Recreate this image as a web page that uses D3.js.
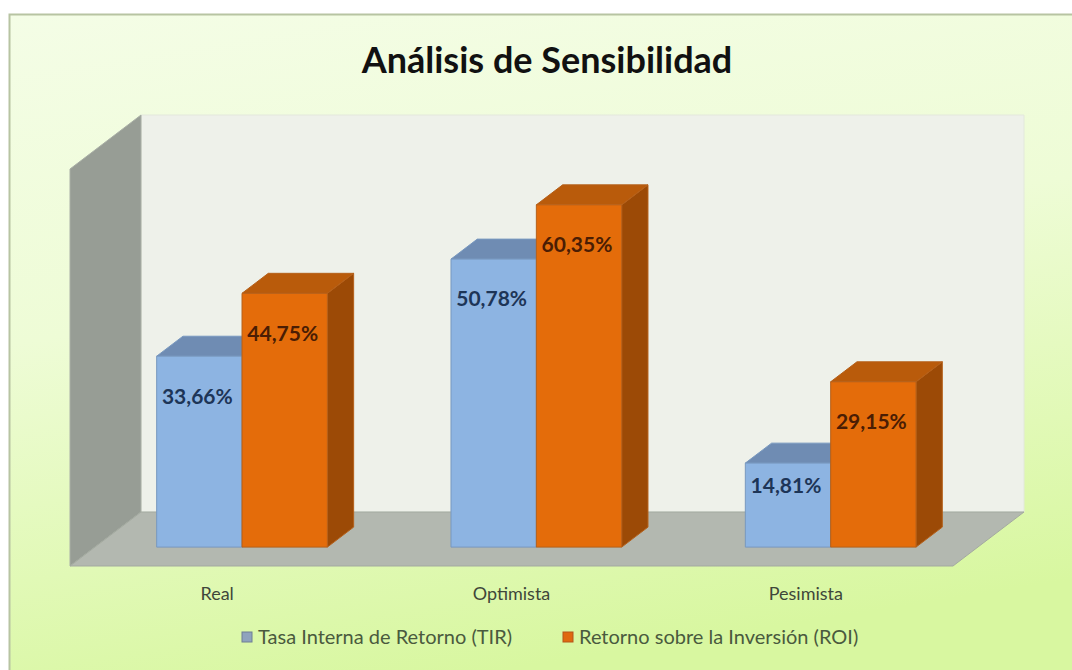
<!DOCTYPE html>
<html>
<head>
<meta charset="utf-8">
<script src="https://cdn.jsdelivr.net/npm/d3@7"></script>
<style>
  html, body { margin: 0; padding: 0; background: #ffffff; overflow: hidden; }
</style>
</head>
<body>
<div id="chart"></div>
<script>
// data
const categories = ["Real", "Optimista", "Pesimista"];
const seriesNames = ["Tasa Interna de Retorno (TIR)", "Retorno sobre la Inversión (ROI)"];
const tirValues = [33.66, 50.78, 14.81];
const roiValues = [44.75, 60.35, 29.15];
const yMax = 70;

const W = 1072, H = 670;

// 3d box geometry (oblique projection)
const frontLeft = 70, frontRight = 953, floorY = 566;
const depth = {dx: 71, dy: -54};
const barF0 = 0.35, barF1 = 0.72;

const palette = [
  {front: "#8db4e2", top: "#6f8cb3", side: "#5b79a0", stroke: "#7898bf", label: "#1d3557"},
  {front: "#e46c0a", top: "#b95b0b", side: "#9c4a06", stroke: "#b5601a", label: "#4a1d04"}
];

const svg = d3.select("#chart")
  .append("svg")
  .attr("width", W)
  .attr("height", H);

const defs = svg.append("defs");
const bg = defs.append("linearGradient")
  .attr("id", "bg")
  .attr("x1", 0).attr("y1", 0).attr("x2", 0.25).attr("y2", 1);
bg.append("stop").attr("offset", "0%").attr("stop-color", "#f4fde6");
bg.append("stop").attr("offset", "45%").attr("stop-color", "#eefcd6");
bg.append("stop").attr("offset", "100%").attr("stop-color", "#d8f7a0");

// chart area (runs past the right and bottom edge like the picture)
svg.append("rect")
  .attr("x", 9.5).attr("y", 14.5)
  .attr("width", W + 20).attr("height", H + 20)
  .attr("fill", "url(#bg)")
  .attr("stroke", "#b7c4a2")
  .attr("stroke-width", 2);

svg.append("text")
  .attr("x", 547).attr("y", 73)
  .attr("text-anchor", "middle")
  .style("font-family", "Lato, 'Open Sans', sans-serif")
  .style("font-weight", "bold")
  .style("font-size", "36px")
  .attr("fill", "#111111")
  .text("Análisis de Sensibilidad");

const x = d3.scaleBand()
  .domain(categories)
  .range([frontLeft, frontRight])
  .paddingInner(0.42)
  .paddingOuter(0.21);

const xs = d3.scaleBand()
  .domain(d3.range(seriesNames.length))
  .range([0, x.bandwidth()]);

const y = d3.scaleLinear()
  .domain([0, yMax])
  .range([0, 397]);

// point in the scene: px on front plane, value height h (px), depth fraction f
const pt = (px, h, f) => [px + f * depth.dx, floorY - h + f * depth.dy];
const poly = pts => pts.map(p => p.join(",")).join(" ");

const fullH = y(yMax);

// back wall
svg.append("polygon")
  .attr("points", poly([pt(frontLeft, 0, 1), pt(frontRight, 0, 1), pt(frontRight, fullH, 1), pt(frontLeft, fullH, 1)]))
  .attr("fill", "#eef1ea")
  .attr("stroke", "#e3e8dc")
  .attr("stroke-width", 1);

// side wall
svg.append("polygon")
  .attr("points", poly([pt(frontLeft, 0, 0), pt(frontLeft, fullH, 0), pt(frontLeft, fullH, 1), pt(frontLeft, 0, 1)]))
  .attr("fill", "#979d95")
  .attr("stroke", "#a9afa6")
  .attr("stroke-width", 1);

// floor
svg.append("polygon")
  .attr("points", poly([pt(frontLeft, 0, 0), pt(frontRight, 0, 0), pt(frontRight, 0, 1), pt(frontLeft, 0, 1)]))
  .attr("fill", "#b3b8b0")
  .attr("stroke", "#a3a9a0")
  .attr("stroke-width", 1);

const fmt = v => d3.format(".2f")(v).replace(".", ",") + "%";

const bars = [];
categories.forEach((c, i) => {
  [tirValues[i], roiValues[i]].forEach((v, s) => {
    bars.push({cat: c, s: s, value: v});
  });
});

const gBars = svg.append("g");
bars.forEach(d => {
  const bx = x(d.cat) + xs(d.s);
  const bw = xs.bandwidth();
  const h = y(d.value);
  const col = palette[d.s];
  const g = gBars.append("g");

  g.append("polygon")
    .attr("points", poly([pt(bx + bw, 0, barF0), pt(bx + bw, 0, barF1), pt(bx + bw, h, barF1), pt(bx + bw, h, barF0)]))
    .attr("fill", col.side)
    .attr("stroke", col.stroke)
    .attr("stroke-width", 1);

  g.append("polygon")
    .attr("points", poly([pt(bx, h, barF0), pt(bx + bw, h, barF0), pt(bx + bw, h, barF1), pt(bx, h, barF1)]))
    .attr("fill", col.top)
    .attr("stroke", col.stroke)
    .attr("stroke-width", 1);

  g.append("polygon")
    .attr("points", poly([pt(bx, 0, barF0), pt(bx + bw, 0, barF0), pt(bx + bw, h, barF0), pt(bx, h, barF0)]))
    .attr("fill", col.front)
    .attr("stroke", col.stroke)
    .attr("stroke-width", 1);

  const top = pt(bx + bw / 2, h, barF0);
  const off = Math.min(40, h * 0.27);
  g.append("text")
    .attr("x", top[0] - 2)
    .attr("y", top[1] + off)
    .attr("dy", "0.35em")
    .attr("text-anchor", "middle")
    .style("font-family", "Lato, 'Open Sans', sans-serif")
    .style("font-weight", "bold")
    .style("font-size", "21px")
    .attr("fill", col.label)
    .text(fmt(d.value));
});

// category labels
svg.append("g")
  .selectAll("text")
  .data(categories)
  .enter()
  .append("text")
  .attr("x", d => x(d) + x.bandwidth() / 2)
  .attr("y", 594)
  .attr("dy", "0.35em")
  .attr("text-anchor", "middle")
  .style("font-family", "Lato, 'Open Sans', sans-serif")
  .style("font-size", "18px")
  .attr("fill", "#3f473a")
  .text(d => d);

// legend
const legendX = [242, 563];
const legend = svg.append("g")
  .selectAll("g")
  .data(seriesNames)
  .enter()
  .append("g")
  .attr("transform", (d, i) => "translate(" + legendX[i] + ",637)");

legend.append("rect")
  .attr("x", 0).attr("y", -5)
  .attr("width", 10).attr("height", 10)
  .attr("fill", (d, i) => i === 0 ? "#8fa3bd" : "#e0690f")
  .attr("stroke", (d, i) => i === 0 ? "#6e7f95" : "#b5561a")
  .attr("stroke-width", 1);

legend.append("text")
  .attr("x", 16)
  .attr("y", 0)
  .attr("dy", "0.35em")
  .style("font-family", "Lato, 'Open Sans', sans-serif")
  .style("font-size", "20px")
  .attr("fill", "#4a5a3e")
  .text(d => d);
</script>
</body>
</html>
